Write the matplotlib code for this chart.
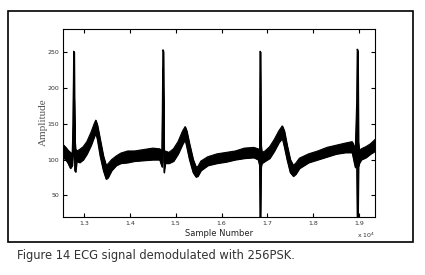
import matplotlib.pyplot as plt
from matplotlib.patches import Rectangle
from matplotlib.ticker import FuncFormatter

# ECG trace: sample index, upper and lower edge of the noisy band
sample = [12540, 12600, 12650, 12700, 12740, 12760, 12772, 12782, 12795, 12812, 12840,
          12900, 12980, 13060, 13150, 13220, 13255, 13290, 13350, 13420, 13480, 13520,
          13600, 13700, 13800, 13950, 14100, 14300, 14500, 14650, 14700, 14712, 14722,
          14732, 14745, 14770, 14850, 14950, 15050, 15150, 15205, 15240, 15300, 15380,
          15440, 15480, 15550, 15700, 15900, 16100, 16300, 16500, 16700, 16800, 16830,
          16840, 16850, 16862, 16880, 16950, 17050, 17150, 17250, 17325, 17370, 17430,
          17500, 17565, 17620, 17700, 17900, 18100, 18300, 18500, 18700, 18850, 18920,
          18950, 18962, 18975, 18988, 19005, 19050, 19150, 19250, 19350]
upper = [121, 117, 113, 110, 108, 150, 251, 250, 130, 115, 112,
         114, 118, 125, 138, 150, 155, 148, 128, 105, 92, 94,
         100, 105, 109, 112, 112, 114, 116, 115, 112, 200, 253,
         250, 110, 112, 110, 115, 125, 140, 146, 140, 122, 100,
         90, 90, 98, 104, 108, 110, 112, 116, 117, 115, 110,
         251, 250, 120, 110, 112, 118, 128, 140, 147, 140, 120,
         100, 92, 95, 102, 108, 112, 117, 120, 123, 125, 115,
         180, 254, 250, 125, 112, 115, 118, 122, 128]
lower = [103, 100, 95, 88, 92, 110, 200, 180, 85, 83, 98,
         96, 100, 108, 120, 132, 137, 128, 105, 85, 73, 75,
         85, 92, 95, 96, 98, 99, 100, 100, 90, 110, 200,
         150, 82, 95, 95, 98, 108, 122, 128, 118, 100, 82,
         76, 77, 85, 92, 95, 97, 100, 102, 103, 100, 92,
         15, 15, 90, 95, 98, 102, 112, 124, 130, 118, 100,
         82, 77, 80, 88, 96, 100, 104, 108, 110, 110, 89,
         95, 15, 15, 90, 95, 100, 103, 108, 112]
center = [(u + l) / 2 for u, l in zip(upper, lower)]

yticks = [50, 100, 150, 200, 250]
xticks = [13000, 14000, 15000, 16000, 17000, 18000, 19000]

fig = plt.figure(figsize=(4.25, 2.75), dpi=100)
fig.patches.append(Rectangle((8 / 425, 1 - 242 / 275), 405 / 425, 231 / 275,
                             transform=fig.transFigure, fill=False,
                             edgecolor='black', linewidth=1.2))

ax = fig.add_axes([63 / 425, 1 - 217 / 275, 312 / 425, 188 / 275])
ax.fill_between(sample, lower, upper, color='black', linewidth=0.8)
ax.plot(sample, upper, color='black', linewidth=0.8)
ax.plot(sample, lower, color='black', linewidth=0.8)
ax.plot(sample, center, color='black', linewidth=0.8)

ax.set_xlim(12540, 19350)
ax.set_ylim(20, 282)
ax.set_xticks(xticks)
ax.set_yticks(yticks)
ax.xaxis.set_major_formatter(FuncFormatter(lambda v, p: f'{v / 1e4:.1f}'))
ax.tick_params(direction='in', length=3, width=0.8, labelsize=4.5,
               labelcolor='#333333', top=True, right=True, pad=3)
for s in ax.spines.values():
    s.set_linewidth(0.8)

ax.set_xlabel('Sample Number', fontsize=6, color='#222222', labelpad=2)
fig.text(43 / 425, 1 - 122 / 275, 'Amplitude', fontsize=8, family='Liberation Serif',
         color='#555555', rotation=90, ha='center', va='center')
fig.text(366 / 425, 1 - 235 / 275, r'x 10$^4$', fontsize=4.5, color='#333333',
         ha='center', va='center')

fig.text(17 / 425, 1 - 255 / 275, 'Figure 14 ECG signal demodulated with 256PSK.',
         fontsize=8.3, color='#333333', ha='left', va='center')

fig.savefig('out.png', dpi=100)
